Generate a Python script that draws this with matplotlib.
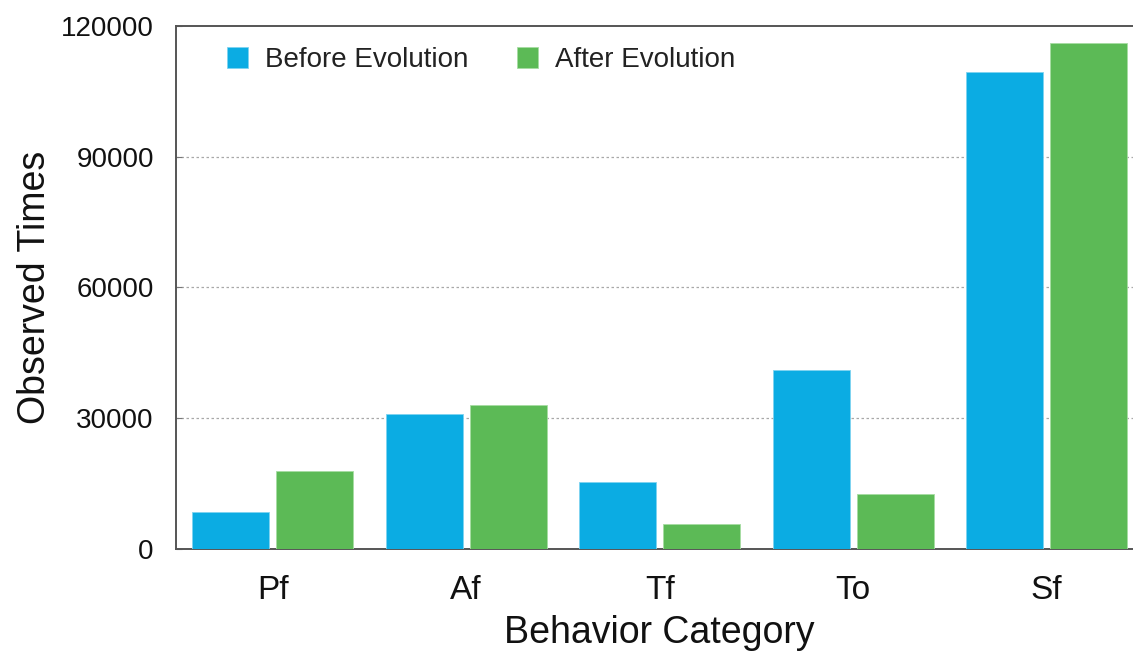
import matplotlib
matplotlib.use("Agg")
import matplotlib.pyplot as plt
import numpy as np

plt.rcParams['font.family'] = ['Liberation Sans', 'DejaVu Sans']

categories = ["Pf", "Af", "Tf", "To", "Sf"]
before_evolution = [8600, 31000, 15400, 41000, 109400]
after_evolution = [18000, 33000, 5700, 12600, 116100]
yticks = [0, 30000, 60000, 90000, 120000]

blue = "#0BACE3"
green = "#5CBA56"

W, H = 1133, 652
fig = plt.figure(figsize=(W / 100, H / 100), dpi=100)
ax = fig.add_axes([176 / W, 1 - 549 / H, 967.5 / W, 523 / H])

x = np.arange(len(categories))
width = 0.4
offset = 0.217
ax.bar(x - offset, before_evolution, width, color=blue, edgecolor="#7FD3F0",
       linewidth=0.6, label="Before Evolution", zorder=3)
ax.bar(x + offset, after_evolution, width, color=green, edgecolor="#A6DDA2",
       linewidth=0.6, label="After Evolution", zorder=3)

ax.set_xlim(-0.5, len(categories) - 0.5)
ax.set_ylim(0, 120000)
ax.set_yticks(yticks)
ax.set_yticklabels([str(v) for v in yticks])
ax.set_xticks(x)
ax.set_xticklabels(categories)

for v in yticks[1:-1]:
    ax.axhline(v, color="#A8A8A8", linewidth=0.9, linestyle=(0, (2, 2)), zorder=1)

for side in ["left", "top", "bottom", "right"]:
    ax.spines[side].set_color("#555555")
    ax.spines[side].set_linewidth(1.4)

ax.tick_params(axis="y", direction="in", length=4, width=0.8, color="#777777",
               labelsize=20, pad=16, labelcolor="#111111")
ax.tick_params(axis="x", length=0, labelsize=24, pad=19, labelcolor="#111111")

ax.set_xlabel("Behavior Category", fontsize=27, labelpad=6, color="#111111")
ax.set_ylabel("Observed Times", fontsize=27, labelpad=6, color="#111111")

leg = ax.legend(loc="upper left", ncol=2, frameon=False, fontsize=20,
                handlelength=0.75, handleheight=0.75, handletextpad=0.6,
                columnspacing=1.77, bbox_to_anchor=(0.027, 1.007))
for t in leg.get_texts():
    t.set_color("#222222")

fig.savefig("out.png", dpi=100)
